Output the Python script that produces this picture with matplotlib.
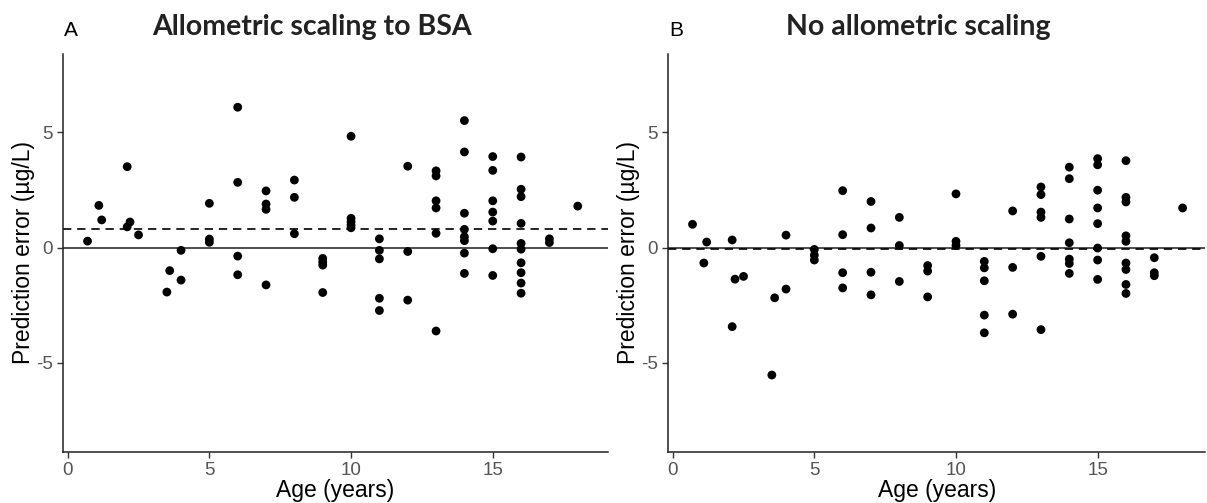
import matplotlib
matplotlib.use("Agg")
import matplotlib.pyplot as plt

# panel A: allometric scaling to BSA
age_a = [0.7, 1.1, 1.2, 2.1, 2.2, 2.1, 2.5, 3.6, 3.5, 4.0, 4.0,
         5, 5, 5, 6, 6, 6, 6,
         7, 7, 7, 7, 8, 8, 8, 9, 9, 9, 9,
         10, 10, 10, 10, 10, 11, 11, 11, 11, 11, 12, 12, 12,
         13, 13, 13, 13, 13, 13,
         14, 14, 14, 14, 14, 14, 14, 14,
         15, 15, 15, 15, 15, 15, 15,
         16, 16, 16, 16, 16, 16, 16, 16, 16, 16,
         17, 17, 18]
err_a = [0.28, 1.83, 1.2, 3.51, 1.11, 0.9, 0.55, -1.0, -1.93, -0.12, -1.41,
         1.92, 0.37, 0.23, 6.09, 2.83, -0.37, -1.18,
         2.46, 1.89, 1.66, -1.62, 2.93, 2.18, 0.6, -0.47, -0.62, -0.76, -1.95,
         4.83, 1.27, 1.12, 0.98, 0.86, 0.38, -0.12, -0.49, -2.2, -2.73, 3.53, -0.17, -2.28,
         3.33, 3.11, 2.03, 1.72, 0.62, -3.62,
         5.51, 4.15, 1.49, 0.79, 0.47, 0.3, -0.24, -1.12,
         3.95, 3.35, 2.03, 1.54, 1.15, -0.05, -1.21,
         3.93, 2.53, 2.21, 1.05, 0.18, -0.07, -0.66, -1.09, -1.54, -1.98,
         0.38, 0.22, 1.8]
mean_a = 0.81

# panel B: no allometric scaling
age_b = [0.7, 1.2, 1.1, 2.1, 2.2, 2.5, 2.1, 3.5, 3.6, 4.0, 4.0,
         5, 5, 5, 6, 6, 6, 6,
         7, 7, 7, 7, 8, 8, 8, 9, 9, 9, 10, 10, 10,
         11, 11, 11, 11, 11, 12, 12, 12,
         13, 13, 13, 13, 13, 13,
         14, 14, 14, 14, 14, 14, 14,
         15, 15, 15, 15, 15, 15, 15, 15,
         16, 16, 16, 16, 16, 16, 16, 16, 16,
         17, 17, 17, 18]
err_b = [1.01, 0.24, -0.67, 0.33, -1.37, -1.25, -3.43, -5.53, -2.18, 0.54, -1.8,
         -0.08, -0.33, -0.54, 2.47, 0.56, -1.09, -1.75,
         2.0, 0.85, -1.07, -2.05, 1.31, 0.09, -1.47, -0.78, -1.02, -2.14, 2.33, 0.27, 0.09,
         -0.6, -0.88, -1.44, -2.93, -3.7, 1.59, -0.86, -2.89,
         2.63, 2.3, 1.54, 1.31, -0.38, -3.56,
         3.49, 2.99, 1.24, 0.21, -0.5, -0.69, -1.12,
         3.86, 3.59, 2.49, 1.72, 1.04, -0.02, -0.54, -1.38,
         3.77, 2.18, 1.98, 0.51, 0.27, -0.67, -0.95, -1.6, -1.99,
         -0.44, -1.09, -1.22, 1.72]
mean_b = -0.08

x_ticks = [0, 5, 10, 15]
y_ticks = [-5, 0, 5]

plt.rcParams["font.family"] = ["Liberation Sans", "DejaVu Sans"]
plt.rcParams["axes.unicode_minus"] = False

fig = plt.figure(figsize=(12.07, 5.03), dpi=100)
W, H = 1207, 503


def panel(left_px, right_px, xmax, ages, errs, mean, letter, title, title_cx):
    ax = fig.add_axes([left_px / W, (H - 452) / H, (right_px - left_px) / W, (452 - 54) / H])
    ax.axhline(0, color="#404040", lw=1.3, zorder=1)
    ax.axhline(mean, color="black", lw=1.2, ls=(0, (5, 3.5)), zorder=2)
    ax.scatter(ages, errs, s=40, color="black", edgecolors="none", zorder=3)
    ax.set_xlim(-0.155, xmax)
    ax.set_ylim(-8.87, 8.4)
    ax.set_xticks(x_ticks)
    ax.set_yticks(y_ticks)
    ax.tick_params(labelsize=13.5, labelcolor="#555555", color="#333333", length=4, width=1)
    for s in ("top", "right"):
        ax.spines[s].set_visible(False)
    for s in ("left", "bottom"):
        ax.spines[s].set_color("#222222")
        ax.spines[s].set_linewidth(1.1)
    ax.set_xlabel("Age (years)", fontsize=16.5, labelpad=0)
    ax.set_ylabel("Prediction error (µg/L)", fontsize=16.5, labelpad=1)
    fig.text((left_px + 8) / W, 1 - 30 / H, letter, fontsize=15, ha="center", va="center")
    fig.text(title_cx / W, 1 - 27 / H, title, fontsize=20.5, fontweight="bold",
             family=["Lato", "DejaVu Sans"], color="#222222", ha="center", va="center")
    return ax


panel(63.3, 607.5, 19.05, age_a, err_a, mean_a, "A", "Allometric scaling to BSA", 312)
panel(668.3, 1205, 18.79, age_b, err_b, mean_b, "B", "No allometric scaling", 918)

fig.savefig("out.png", dpi=100)
